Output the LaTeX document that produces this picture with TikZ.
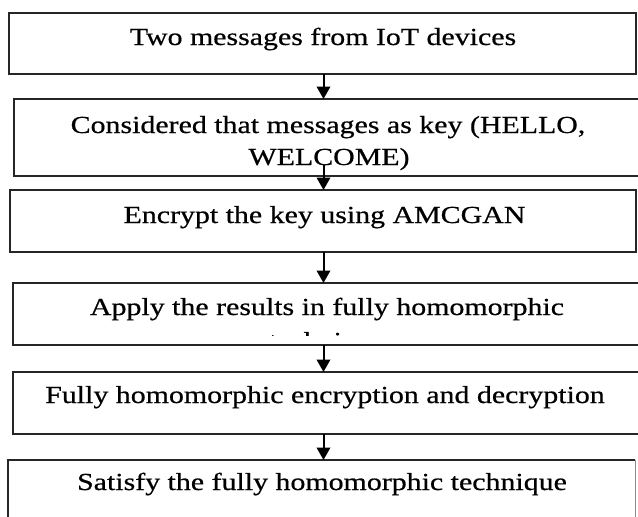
\documentclass[tikz,border=0pt]{standalone}
\usepackage{fontspec}
\usetikzlibrary{arrows.meta}
\newfontfamily\boxfont{Liberation Serif}[FakeStretch=1.22,FakeBold=0.6]
\begin{document}
\begin{tikzpicture}[x=1pt,y=-1pt,
  stagebox/.style={draw=black!85,line width=2.2pt,rectangle,inner sep=0pt,outer sep=0pt,anchor=north west},
  plainbox/.style={rectangle,inner sep=0pt,outer sep=0pt,anchor=north west},
  boxedge/.style={draw=black!85,line width=2.2pt},
  thinedge/.style={draw=black!45,line width=1pt},
  label/.style={font=\boxfont\fontsize{24.5}{32}\selectfont,inner sep=0pt,anchor=base},
  flow/.style={draw=black,line width=2pt,-{Triangle[width=13.5pt,length=12.5pt]}}]
\useasboundingbox (0,0) rectangle (638,517);
\clip (0,0) rectangle (638,517);

% the six stages of the process
\node[stagebox,minimum width=627pt,minimum height=61pt] (b1) at (9,13) {};
\node[stagebox,minimum width=636pt,minimum height=77pt] (b2) at (14,99) {};
\node[stagebox,minimum width=626pt,minimum height=62pt] (b3) at (10,190) {};
\node[stagebox,minimum width=637pt,minimum height=62pt] (b4) at (13,283) {};
\node[stagebox,minimum width=637pt,minimum height=62pt] (b5) at (13,372) {};
\node[plainbox,minimum width=627pt,minimum height=80pt] (b6) at (8,460) {};
\draw[boxedge] (b6.south west) -- (b6.north west) -- (b6.north east);
\draw[thinedge] (b6.north east) -- (b6.south east);

% stage texts
\node[label] (t1) at (323,45) {Two messages from IoT devices};
\node[label] (t2a) at (328,133) {Considered that messages as key (HELLO,};
\node[label] (t2b) at (329,165) {WELCOME)};
\node[label] (t3) at (324.5,223) {Encrypt the key using AMCGAN};
\node[label] (t4a) at (327,315) {Apply the results in fully homomorphic};
\begin{scope}
  \clip (0,283) rectangle (638,335);
  \node[label] (t4b) at (327,349) {technique};
\end{scope}
\node[label] (t5) at (325,403) {Fully homomorphic encryption and decryption};
\node[label] (t6) at (322,490) {Satisfy the fully homomorphic technique};

% connectors
\coordinate (ax) at (323.5,0);
\coordinate (s2) at (323.5,165);
\draw[flow] (b1.south -| ax) -- (b2.north -| ax);
\draw[flow] (s2) -- (b3.north -| ax);
\draw[flow] (b3.south -| ax) -- (b4.north -| ax);
\draw[flow] (b4.south -| ax) -- (b5.north -| ax);
\draw[flow] (b5.south -| ax) -- (b6.north -| ax);
\end{tikzpicture}
\end{document}
